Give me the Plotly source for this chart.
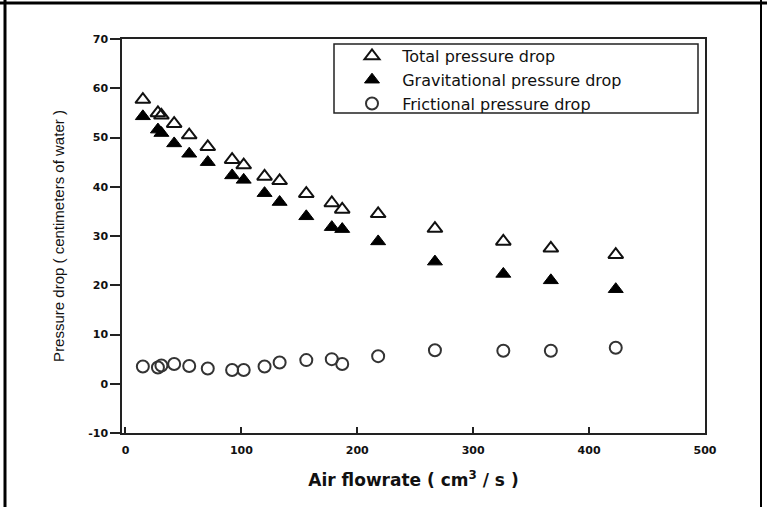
import plotly.graph_objects as go

# Data
air_flowrate = [15, 28, 31, 42, 55, 71, 92, 102, 120, 133, 156, 178, 187, 218, 267, 326, 367, 423]
total_drop = [57.7, 55.0, 54.5, 52.8, 50.5, 48.1, 45.5, 44.4, 42.1, 41.2, 38.6, 36.7, 35.4, 34.5, 31.5, 28.9, 27.5, 26.2]
grav_drop = [54.3, 51.6, 50.9, 48.8, 46.7, 45.0, 42.3, 41.4, 38.7, 36.9, 34.0, 31.8, 31.4, 28.9, 24.8, 22.3, 21.0, 19.2]
fric_drop = [3.5, 3.3, 3.7, 4.0, 3.6, 3.1, 2.8, 2.8, 3.5, 4.3, 4.8, 5.0, 4.0, 5.6, 6.8, 6.7, 6.7, 7.3]
series_names = ["Total pressure drop", "Gravitational pressure drop", "Frictional pressure drop"]
x_ticks = [0, 100, 200, 300, 400, 500]
y_ticks = [-10, 0, 10, 20, 30, 40, 50, 60, 70]

W, H = 767, 507
L, R, T, B = 122, 62, 39, 74
pw, ph = W - L - R, H - T - B

def px_x(p):
    return (p - L) / pw

def px_y(p):
    return (H - B - p) / ph

pad = "\u00a0\u00a0"
fig = go.Figure()
fig.add_trace(go.Scatter(x=air_flowrate, y=total_drop, mode="markers", name=pad + series_names[0],
                         marker=dict(symbol="triangle-up-open", size=13, color="#111",
                                     line=dict(width=2, color="#111"))))
fig.add_trace(go.Scatter(x=air_flowrate, y=grav_drop, mode="markers", name=pad + series_names[1],
                         marker=dict(symbol="triangle-up", size=13, color="#000",
                                     line=dict(width=1, color="#000"))))
fig.add_trace(go.Scatter(x=air_flowrate, y=fric_drop, mode="markers", name=pad + series_names[2],
                         marker=dict(symbol="circle-open", size=12, color="#333",
                                     line=dict(width=2, color="#333"))))

shapes = [
    # legend box
    dict(type="rect", xref="paper", yref="paper", x0=px_x(334), x1=px_x(698), y0=px_y(113), y1=px_y(44),
         line=dict(color="#222", width=1.5)),
    # outer frame
    dict(type="line", xref="paper", yref="paper", x0=px_x(5), x1=px_x(5), y0=px_y(0), y1=px_y(507),
         line=dict(color="#000", width=3)),
    dict(type="line", xref="paper", yref="paper", x0=px_x(0), x1=px_x(767), y0=px_y(3), y1=px_y(3),
         line=dict(color="#000", width=3)),
    dict(type="line", xref="paper", yref="paper", x0=px_x(761), x1=px_x(761), y0=px_y(0), y1=px_y(507),
         line=dict(color="#000", width=2)),
]

fig.update_layout(
    width=W, height=H,
    margin=dict(l=L, r=R, t=T, b=B, autoexpand=False),
    paper_bgcolor="white", plot_bgcolor="white",
    showlegend=True,
    legend=dict(x=px_x(334), y=px_y(39), xanchor="left", yanchor="top",
                bgcolor="rgba(0,0,0,0)", borderwidth=0, indentation=18,
                font=dict(family="DejaVu Sans", size=16, color="#111")),
    shapes=shapes,
    xaxis=dict(range=[-3, 500], tickvals=x_ticks, ticktext=[str(v) for v in x_ticks],
               showgrid=False, zeroline=False, showline=True, linecolor="#222", linewidth=1.5,
               mirror=True, ticks="inside", ticklen=6, tickcolor="#222", tickwidth=1.5,
               ticklabelstandoff=6,
               tickfont=dict(family="DejaVu Sans", size=11, color="#111", weight="bold"),
               title=dict(text="Air flowrate ( cm<sup>3</sup> / s )", standoff=18,
                          font=dict(family="DejaVu Sans", size=17, color="#111", weight="bold"))),
    yaxis=dict(range=[-10, 70], tickvals=y_ticks, ticktext=[str(v) for v in y_ticks],
               showgrid=False, zeroline=False, showline=True, linecolor="#222", linewidth=1.5,
               mirror=True, ticks="outside", ticklen=10, tickcolor="#222", tickwidth=1.5,
               tickfont=dict(family="DejaVu Sans", size=11, color="#111", weight="bold"),
               title=dict(text="Pressure drop ( centimeters of water )", standoff=20,
                          font=dict(family="Arial", size=15, color="#111"))),
)

fig.write_html("out.html", config={"displayModeBar": False},
               post_script="document.body.style.margin='0';document.body.style.padding='0';")
